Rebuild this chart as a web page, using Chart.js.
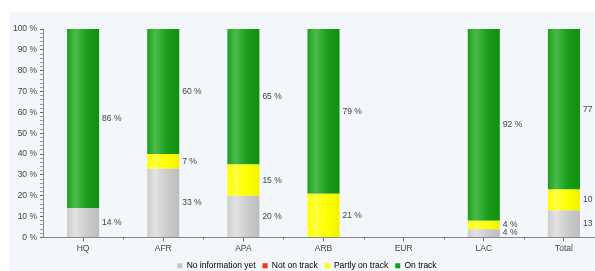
<!DOCTYPE html>
<html><head><meta charset="utf-8">
<script src="https://cdn.jsdelivr.net/npm/chart.js@4"></script>
<style>
html,body{margin:0;padding:0;background:#fff;overflow:hidden;width:595px;height:271px}
#wrap{position:absolute;left:10px;top:12px;width:604px;height:268px;background:#f3f6fa}
</style></head>
<body><div id="wrap"><canvas id="c"></canvas></div>
<script>
const categories = ['HQ','AFR','APA','ARB','EUR','LAC','Total'];
const noInfo     = [14, 33, 20, 0, 0, 4, 13];
const notOnTrack = [0, 0, 0, 0, 0, 0, 0];
const partly     = [0, 7, 15, 21, 0, 4, 10];
const onTrack    = [86, 60, 65, 79, 0, 92, 77];
const seriesNames = ['No information yet','Not on track','Partly on track','On track'];

const FONT = "'Liberation Sans', Arial, sans-serif";
const TXT = '#444';

function grad(light, mid, dark, flat) {
  return (ctx) => {
    const chart = ctx.chart;
    const xs = chart.scales && chart.scales.x;
    if (!chart.chartArea || !xs || ctx.dataIndex === undefined) return flat;
    const cx = xs.getPixelForValue(ctx.dataIndex);
    const cw = xs.getPixelForValue(1) - xs.getPixelForValue(0);
    const w = cw * 0.4;
    const g = chart.ctx.createLinearGradient(cx - w/2, 0, cx + w/2, 0);
    g.addColorStop(0, mid);
    g.addColorStop(0.25, light);
    g.addColorStop(0.6, mid);
    g.addColorStop(1, dark);
    return g;
  };
}

const labelPlugin = {
  id: 'segLabels',
  afterDatasetsDraw(chart) {
    const c = chart.ctx;
    c.save();
    c.font = '8.5px ' + FONT;
    c.fillStyle = TXT;
    c.textAlign = 'left';
    c.textBaseline = 'middle';
    chart.data.datasets.forEach((ds, i) => {
      const meta = chart.getDatasetMeta(i);
      meta.data.forEach((el, j) => {
        const v = ds.data[j];
        if (!v) return;
        const p = el.getProps(['x','y','base','width'], true);
        c.fillText(v + ' %', p.x + p.width/2 + 3, (p.y + p.base)/2);
      });
    });
    c.restore();
  }
};

const boundaryTicks = {
  id: 'boundaryTicks',
  afterDraw(chart) {
    const xs = chart.scales.x, c = chart.ctx;
    const cw = xs.getPixelForValue(1) - xs.getPixelForValue(0);
    c.save();
    c.strokeStyle = '#777';
    c.lineWidth = 1;
    for (let i = 0; i < categories.length - 1; i++) {
      const x = Math.round(xs.getPixelForValue(i) + cw/2) + 0.5;
      c.beginPath();
      c.moveTo(x, xs.top);
      c.lineTo(x, xs.top + 2);
      c.stroke();
    }
    c.restore();
  }
};

new Chart(document.getElementById('c'), {
  type: 'bar',
  data: {
    labels: categories,
    datasets: [
      { label: seriesNames[0], data: noInfo, backgroundColor: grad('#e2e2e2','#cdcdcd','#bdbdbd','#cdcdcd') },
      { label: seriesNames[1], data: notOnTrack, backgroundColor: '#ff2a1a' },
      { label: seriesNames[2], data: partly, backgroundColor: grad('#ffff40','#ffff00','#f2f200','#ffff00') },
      { label: seriesNames[3], data: onTrack, backgroundColor: grad('#4cba4c','#1a9f1a','#0f8f0f','#1a9f1a') }
    ]
  },
  options: {
    responsive: true,
    maintainAspectRatio: false,
    animation: false,
    layout: { padding: { left: 0, right: 10, top: 17, bottom: 0 } },
    datasets: { bar: { barPercentage: 0.4, categoryPercentage: 1.0, borderWidth: 0 } },
    scales: {
      x: {
        stacked: true,
        grid: { display: true, drawOnChartArea: false, offset: false, tickLength: 4, color: '#777' },
        border: { color: '#888' },
        ticks: { color: TXT, font: { family: FONT, size: 8.5 }, padding: 2 },
        afterFit(s) { s.height = 17; }
      },
      y: {
        stacked: true,
        min: 0, max: 100,
        grid: { display: true, drawOnChartArea: false, tickLength: 3, color: (ctx) => (ctx.tick && ctx.tick.value % 10 === 0) ? '#666' : '#999' },
        border: { color: '#888' },
        ticks: {
          stepSize: 2, autoSkip: false, color: TXT, font: { family: FONT, size: 8.5 }, padding: 3,
          callback: (v) => (v % 10 === 0 ? v + ' %' : '')
        },
        afterFit(s) { s.width = 33; }
      }
    },
    plugins: {
      legend: {
        position: 'bottom',
        labels: {
          boxWidth: 5, boxHeight: 5, padding: 7, color: '#555',
          font: { family: FONT, size: 8.5 },
          generateLabels(chart) {
            const cols = ['#c4c4c4','#ff2a1a','#ffff00','#14a014'];
            return chart.data.datasets.map((d, i) => ({
              text: d.label, fillStyle: cols[i], strokeStyle: cols[i], lineWidth: 0, datasetIndex: i, hidden: false
            }));
          }
        }
      },
      tooltip: { enabled: false }
    }
  },
  plugins: [labelPlugin, boundaryTicks]
});
</script>
</body></html>
